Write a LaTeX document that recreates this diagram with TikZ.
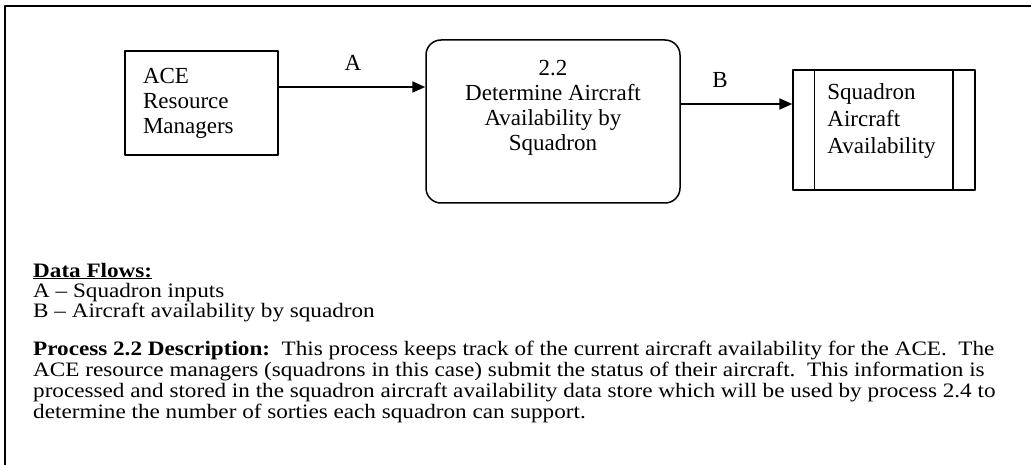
\documentclass[tikz,border=0pt]{standalone}
\usepackage{fontspec}
\setmainfont{Liberation Serif}
\newfontfamily\widefont{Liberation Serif}[FakeStretch=1.13]
\usetikzlibrary{arrows.meta,positioning,calc}

\begin{document}
\begin{tikzpicture}[x=1pt, y=-1pt, line join=round, >={Triangle[length=13pt,width=11pt]},
  boxfont/.style={font=\fontsize{23}{25}\selectfont},
  textfont/.style={font=\widefont\fontsize{20.5}{21}\selectfont},
  entity/.style={draw, line width=1.5pt, minimum width=153pt, minimum height=104pt,
    text width=117pt, inner xsep=18pt, inner ysep=0pt, align=left, boxfont},
  process/.style={draw, line width=1.5pt, rounded corners=15pt, minimum width=254pt,
    minimum height=163pt, inner sep=0pt},
  store/.style={draw, line width=1.5pt, minimum width=182pt, minimum height=120pt, inner sep=0pt},
  flow/.style={->, line width=2pt},
  line/.style={anchor=base west, inner sep=0pt, textfont}]
 \useasboundingbox (0,0) rectangle (1031,465);
 % frame
 \draw[line width=2pt] (5,465) -- (5,6) -- (1031,6);
 % nodes
 \node[entity] (ace) at (201.5,103) {ACE\\Resource\\Managers};
 \node[process] (proc) at (553,121.5) {};
 \node[boxfont, align=center, anchor=north, inner sep=0pt] (proctext) at ([yshift=-21pt]proc.north)
   {2.2\\Determine Aircraft\\Availability by\\Squadron};
 \node[store] (stor) at (884,130) {};
 \draw[line width=1.5pt] ([xshift=22pt]stor.north west) -- ([xshift=22pt]stor.south west);
 \draw[line width=1.5pt] ([xshift=-23pt]stor.north east) -- ([xshift=-23pt]stor.south east);
 \node[font=\fontsize{23}{27}\selectfont, align=left, anchor=north west, inner sep=0pt] (stortext)
   at ([xshift=35pt,yshift=-14pt]stor.north west) {Squadron\\Aircraft\\Availability};
 % flows
 \coordinate (a0) at ([yshift=16pt]ace.east);
 \draw[flow] (a0) -- (a0 -| proc.west);
 \node[boxfont, inner sep=0pt] (lblA) at (353,63) {A};
 \coordinate (b0) at ([yshift=17.5pt]proc.east);
 \draw[flow] (b0) -- (b0 -| stor.west);
 \node[boxfont, inner sep=0pt] (lblB) at (720,80) {B};
 % legend
 \node[line] (df) at (33,277) {\underline{\textbf{Data Flows:}}};
 \node[line] (dfa) at (33,298) {A – Squadron inputs};
 \node[line] (dfb) at (33,317) {B – Aircraft availability by squadron};
 \foreach \txt [count=\i] in {
   {\textbf{Process 2.2 Description:}\ \ This process keeps track of the current aircraft availability for the ACE.\ \ The},
   {ACE resource managers (squadrons in this case) submit the status of their aircraft.\ \ This information is},
   {processed and stored in the squadron aircraft availability data store which will be used by process 2.4 to},
   {determine the number of sorties each squadron can support.}}
   \node[line] (p\i) at (33,355+21*\i-21) {\txt};
\end{tikzpicture}
\end{document}
